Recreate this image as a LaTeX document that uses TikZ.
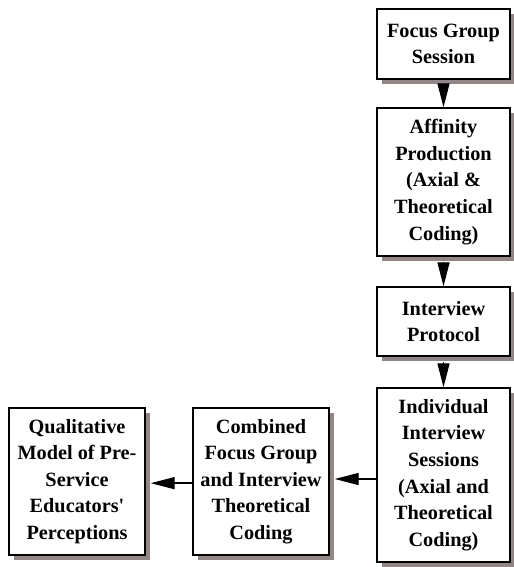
\documentclass[tikz,border=0pt]{standalone}
\usepackage{fontspec}
\setmainfont{Liberation Serif}
\usetikzlibrary{arrows.meta,shadows}
\definecolor{shadowgrey}{RGB}{146,134,134}
\tikzset{
  stagebox/.style={draw, line width=1.2pt, fill=white, align=center,
    font=\fontsize{17.3}{22.7}\selectfont\bfseries, inner sep=0pt,
    drop shadow={shadow xshift=0.15cm, shadow yshift=-0.15cm, fill=shadowgrey, opacity=1}},
  flow/.style={line width=1.2pt, -{Triangle[length=0.72cm,width=0.36cm]}}
}
\begin{document}
\begin{tikzpicture}[x=0.03cm, y=-0.03cm]
  \useasboundingbox (0,0) rectangle (514,567);
  % Right column: from the focus group down to the interviews
  \node[stagebox, minimum width=3.99cm, minimum height=2.1cm] (focus) at (443.5,44) {Focus Group\\Session};
  \node[stagebox, minimum width=3.99cm, minimum height=4.44cm] (affinity) at (443.5,182) {Affinity\\Production\\(Axial \&\\Theoretical\\Coding)};
  \node[stagebox, minimum width=3.99cm, minimum height=2.07cm] (protocol) at (443.5,321.5) {Interview\\Protocol};
  \node[stagebox, minimum width=3.99cm, minimum height=5.22cm] (sessions) at (443.5,475) {Individual\\Interview\\Sessions\\(Axial and\\Theoretical\\Coding)};
  % Bottom row: combined coding and the model
  \node[stagebox, minimum width=4.08cm, minimum height=4.41cm] (combined) at (261,481.5) {Combined\\Focus Group\\and Interview\\Theoretical\\Coding};
  \node[stagebox, minimum width=4.08cm, minimum height=4.41cm] (model) at (77,481.5) {Qualitative\\Model of Pre-\\Service\\Educators\textquotesingle\\Perceptions};
  % Arrows
  \draw[flow] ([yshift=-0.15cm]focus.south) -- (affinity.north);
  \draw[flow] ([yshift=-0.15cm]affinity.south) -- (protocol.north);
  \draw[flow] ([yshift=-0.15cm]protocol.south) -- (sessions.north);
  \draw[flow] ([yshift=-0.12cm]sessions.west) -- ([yshift=-0.12cm, xshift=0.15cm]sessions.west -| combined.east);
  \draw[flow] ([yshift=-0.05cm]combined.west) -- ([yshift=-0.05cm, xshift=0.15cm]combined.west -| model.east);
\end{tikzpicture}
\end{document}
